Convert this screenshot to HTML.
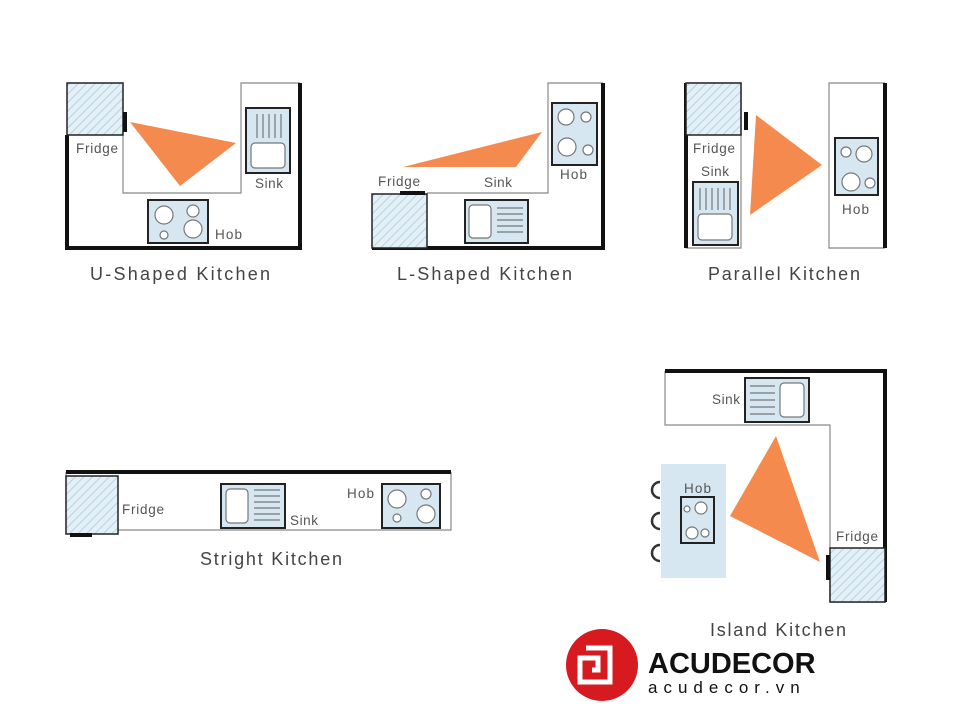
<!DOCTYPE html>
<html><head><meta charset="utf-8"><style>
html,body{margin:0;padding:0;background:#fff;}
svg{display:block;}
text{font-family:"Liberation Sans",sans-serif;fill:#555;}
</style></head><body>
<svg width="960" height="720" viewBox="0 0 960 720" xmlns="http://www.w3.org/2000/svg">
<defs>
<pattern id="h" width="6" height="6" patternUnits="userSpaceOnUse" patternTransform="rotate(45)">
<rect width="6" height="6" fill="#e3f0f7"/><line x1="0" y1="0" x2="0" y2="6" stroke="#a9c8d8" stroke-width="1.5"/>
</pattern>
</defs>
<g fill="none" stroke="#888" stroke-width="1.2">
<polyline points="123,135 123,193 241,193 241,83 300,83"/>
<polyline points="427,193 548,193 548,83 603,83"/>
<polyline points="686,83 741,83 741,248 686,248"/>
<polyline points="885,83 829,83 829,248 885,248"/>
<polyline points="66,472 66,530 451,530 451,472"/>
<polyline points="665,371 665,425 830,425 830,602 885,602"/>
</g>
<g stroke="#111" stroke-width="4" fill="none">
<polyline points="67,135 67,248 300,248 300,83"/>
<polyline points="372,248 603,248 603,83"/>
<line x1="686" y1="83" x2="686" y2="248"/>
<line x1="885" y1="83" x2="885" y2="248"/>
<line x1="66" y1="472" x2="451" y2="472"/>
<polyline points="665,371 885,371 885,602"/>
</g>
<g fill="url(#h)" stroke="#222" stroke-width="1.5">
<rect x="67" y="83" width="56" height="52"/>
<rect x="372" y="194" width="55" height="54"/>
<rect x="686" y="83" width="55" height="52"/>
<rect x="66" y="476" width="52" height="58"/>
<rect x="830" y="548" width="55" height="54"/>
</g>
<g fill="#111">
<rect x="123" y="112" width="4" height="20"/>
<rect x="400" y="191" width="25" height="4"/>
<rect x="744" y="112" width="4" height="18"/>
<rect x="70" y="533" width="22" height="4"/>
<rect x="826" y="555" width="4" height="25"/>
</g>
<rect x="661" y="464" width="65" height="114" fill="#d6e7f1"/>
<g fill="none" stroke="#333" stroke-width="2.5">
<path d="M660,482 a8,8 0 1 0 0,16"/>
<path d="M660,513 a8,8 0 1 0 0,16"/>
<path d="M660,545 a8,8 0 1 0 0,16"/>
</g>
<g fill="#d6e7f1" stroke="#222" stroke-width="2">
<rect x="246" y="108" width="44" height="65"/>
<rect x="148" y="200" width="60" height="43"/>
<rect x="465" y="200" width="63" height="43"/>
<rect x="552" y="103" width="45" height="62"/>
<rect x="693" y="182" width="45" height="63"/>
<rect x="835" y="138" width="43" height="57"/>
<rect x="221" y="484" width="64" height="44"/>
<rect x="382" y="484" width="58" height="44"/>
<rect x="745" y="378" width="64" height="44"/>
<rect x="681" y="497" width="33" height="46"/>
</g>
<g fill="#fff" stroke="#777" stroke-width="1.2">
<rect x="251" y="143" width="34" height="25" rx="4"/>
<circle cx="164" cy="215" r="9"/><circle cx="193" cy="211" r="6"/><circle cx="164" cy="235" r="4"/><circle cx="193" cy="229" r="9"/>
<rect x="469" y="205" width="22" height="33" rx="4"/>
<circle cx="566" cy="117" r="8"/><circle cx="586" cy="117" r="5"/><circle cx="567" cy="147" r="9"/><circle cx="588" cy="150" r="5"/>
<rect x="698" y="214" width="34" height="26" rx="4"/>
<circle cx="846" cy="152" r="5"/><circle cx="864" cy="154" r="8"/><circle cx="851" cy="182" r="9"/><circle cx="870" cy="183" r="5"/>
<rect x="226" y="489" width="22" height="34" rx="4"/>
<circle cx="397" cy="499" r="9"/><circle cx="426" cy="494" r="5"/><circle cx="397" cy="518" r="4"/><circle cx="426" cy="514" r="9"/>
<rect x="780" y="383" width="24" height="34" rx="4"/>
<circle cx="687" cy="509" r="3"/><circle cx="701" cy="508" r="6"/><circle cx="692" cy="533" r="6"/><circle cx="705" cy="533" r="4"/>
</g>
<g stroke="#777" stroke-width="1.2">
<line x1="257" y1="114" x2="257" y2="138"/><line x1="263" y1="114" x2="263" y2="138"/><line x1="269" y1="114" x2="269" y2="138"/><line x1="275" y1="114" x2="275" y2="138"/><line x1="281" y1="114" x2="281" y2="138"/>
<line x1="700" y1="188" x2="700" y2="210"/><line x1="706" y1="188" x2="706" y2="210"/><line x1="712" y1="188" x2="712" y2="210"/><line x1="718" y1="188" x2="718" y2="210"/><line x1="724" y1="188" x2="724" y2="210"/><line x1="730" y1="188" x2="730" y2="210"/>
<line x1="497" y1="208" x2="523" y2="208"/><line x1="497" y1="214" x2="523" y2="214"/><line x1="497" y1="220" x2="523" y2="220"/><line x1="497" y1="226" x2="523" y2="226"/><line x1="497" y1="232" x2="523" y2="232"/>
<line x1="254" y1="490" x2="280" y2="490"/><line x1="254" y1="496" x2="280" y2="496"/><line x1="254" y1="502" x2="280" y2="502"/><line x1="254" y1="508" x2="280" y2="508"/><line x1="254" y1="514" x2="280" y2="514"/><line x1="254" y1="520" x2="280" y2="520"/>
<line x1="750" y1="386" x2="775" y2="386"/><line x1="750" y1="393" x2="775" y2="393"/><line x1="750" y1="400" x2="775" y2="400"/><line x1="750" y1="407" x2="775" y2="407"/><line x1="750" y1="414" x2="775" y2="414"/>
</g>
<g fill="#f58a4f">
<polygon points="130,122 236,143 180,186"/>
<polygon points="403,167 542,132 516,167"/>
<polygon points="756,115 822,165 750,215"/>
<polygon points="776,436 730,516 820,562"/>
</g>
<g font-size="13.5">
<text x="76" y="153" textLength="42">Fridge</text>
<text x="255" y="188" textLength="28">Sink</text>
<text x="215" y="239" textLength="27">Hob</text>
<text x="378" y="186" textLength="42">Fridge</text>
<text x="484" y="187" textLength="28">Sink</text>
<text x="560" y="179" textLength="27">Hob</text>
<text x="693" y="153" textLength="42">Fridge</text>
<text x="701" y="176" textLength="28">Sink</text>
<text x="842" y="214" textLength="27">Hob</text>
<text x="122" y="514" textLength="42">Fridge</text>
<text x="290" y="525" textLength="28">Sink</text>
<text x="347" y="498" textLength="27">Hob</text>
<text x="712" y="404" textLength="28">Sink</text>
<text x="684" y="493" textLength="27">Hob</text>
<text x="836" y="541" textLength="42">Fridge</text>
</g>
<g font-size="18" style="fill:#444">
<text x="90" y="280" textLength="180" style="fill:#444">U-Shaped Kitchen</text>
<text x="397" y="280" textLength="175" style="fill:#444">L-Shaped Kitchen</text>
<text x="708" y="280" textLength="152" style="fill:#444">Parallel Kitchen</text>
<text x="200" y="565" textLength="142" style="fill:#444">Stright Kitchen</text>
<text x="710" y="636" textLength="136" style="fill:#444">Island Kitchen</text>
</g>
<circle cx="602" cy="665" r="36" fill="#d71920"/>
<path d="M586,648 h24 v34 h-30 v-24 h18 v12 h-6" fill="none" stroke="#fff" stroke-width="5"/>
<text x="648" y="673" font-size="29" font-weight="bold" style="fill:#111">ACUDECOR</text>
<text x="648" y="693" font-size="17" letter-spacing="6" style="fill:#111">acudecor.vn</text>
</svg>
</body></html>
